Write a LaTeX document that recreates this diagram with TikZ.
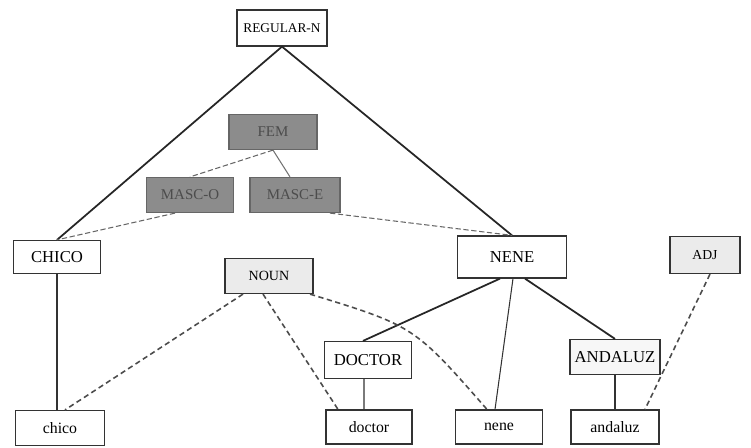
\documentclass[tikz,border=0pt]{standalone}
\usepackage{fontspec}
\setmainfont{Liberation Serif}
\begin{document}
\begin{tikzpicture}[x=0.02cm,y=-0.02cm,
  box/.style={draw=black!80,line width=0.7pt,fill=white,inner sep=0pt,font=\fontsize{9.5}{11}\selectfont},
  darkbox/.style={box,fill=black!45,draw=black!60,text=black!70,font=\fontsize{8.5}{10}\selectfont},
  lightbox/.style={box,fill=black!8},
  word/.style={box,font=\fontsize{9}{10}\selectfont},
  strong/.style={line width=1pt,black!85},
  thin/.style={line width=0.6pt,black!80},
  dsh/.style={line width=0.9pt,black!70,dash pattern=on 3pt off 2pt},
  thindsh/.style={line width=0.6pt,black!60,dash pattern=on 3pt off 1.5pt},
  greyline/.style={line width=0.6pt,black!55}]
\useasboundingbox (0,0) rectangle (751,447);
\node[box,minimum width=1.8cm,minimum height=0.72cm,font=\fontsize{7.6}{9}\selectfont] (reg) at (282,28) {REGULAR-N};
\node[darkbox,minimum width=1.76cm,minimum height=0.7cm] (fem) at (273,132) {FEM};
\node[darkbox,minimum width=1.74cm,minimum height=0.7cm] (masco) at (190,195) {MASC-O};
\node[darkbox,minimum width=1.8cm,minimum height=0.7cm] (masce) at (295,195) {MASC-E};
\node[box,minimum width=1.74cm,minimum height=0.66cm] (CHICO) at (57,257) {CHICO};
\node[lightbox,minimum width=1.76cm,minimum height=0.7cm,font=\fontsize{8}{9}\selectfont] (noun) at (269,276) {NOUN};
\node[box,minimum width=2.18cm,minimum height=0.84cm] (NENE) at (512,257) {NENE};
\node[lightbox,minimum width=1.4cm,minimum height=0.74cm,font=\fontsize{7.8}{9}\selectfont] (adj) at (705,255) {ADJ};
\node[box,minimum width=1.74cm,minimum height=0.74cm] (DOCTOR) at (368,360) {DOCTOR};
\node[box,fill=black!3,minimum width=1.8cm,minimum height=0.7cm] (ANDALUZ) at (615,357) {ANDALUZ};
\node[word,minimum width=1.78cm,minimum height=0.7cm] (chico) at (60,428) {chico};
\node[word,minimum width=1.72cm,minimum height=0.68cm] (doctor) at (369,427) {doctor};
\node[word,minimum width=1.74cm,minimum height=0.68cm] (nene) at (499,427) {nene};
\node[word,minimum width=1.76cm,minimum height=0.68cm] (andaluz) at (615,427) {andaluz};
\coordinate (ctrl) at (414,326);
\draw[strong] (reg.south) -- (CHICO.north);
\draw[strong] (reg.south) -- (NENE.north);
\draw[thindsh] (fem.south) -- (masco.north);
\draw[greyline] (fem.south) -- ([xshift=-0.1cm]masce.north);
\draw[thindsh] ([xshift=-0.3cm]masco.south) -- (CHICO.north);
\draw[thindsh] ([xshift=0.7cm]masce.south) -- (NENE.north);
\draw[thin] (CHICO.south) -- (CHICO.south |- chico.north);
\draw[strong] ([xshift=-0.24cm]NENE.south) -- ([xshift=-0.1cm]DOCTOR.north);
\draw[thin] ([xshift=0.02cm]NENE.south) -- ([xshift=-0.08cm]nene.north);
\draw[strong] ([xshift=0.26cm]NENE.south) -- (ANDALUZ.north);
\draw[thin] ([xshift=-0.08cm]DOCTOR.south) -- ([xshift=-0.1cm]doctor.north);
\draw[thin] (ANDALUZ.south) -- (andaluz.north);
\draw[dsh] ([xshift=-0.52cm]noun.south) -- ([xshift=0.1cm]chico.north);
\draw[dsh] ([xshift=-0.12cm]noun.south) -- ([xshift=-0.62cm]doctor.north);
\draw[dsh] ([xshift=0.82cm]noun.south) .. controls (ctrl) .. ([xshift=-0.24cm]nene.north);
\draw[dsh] ([xshift=0.1cm]adj.south) -- ([xshift=0.6cm]andaluz.north);
\end{tikzpicture}
\end{document}
